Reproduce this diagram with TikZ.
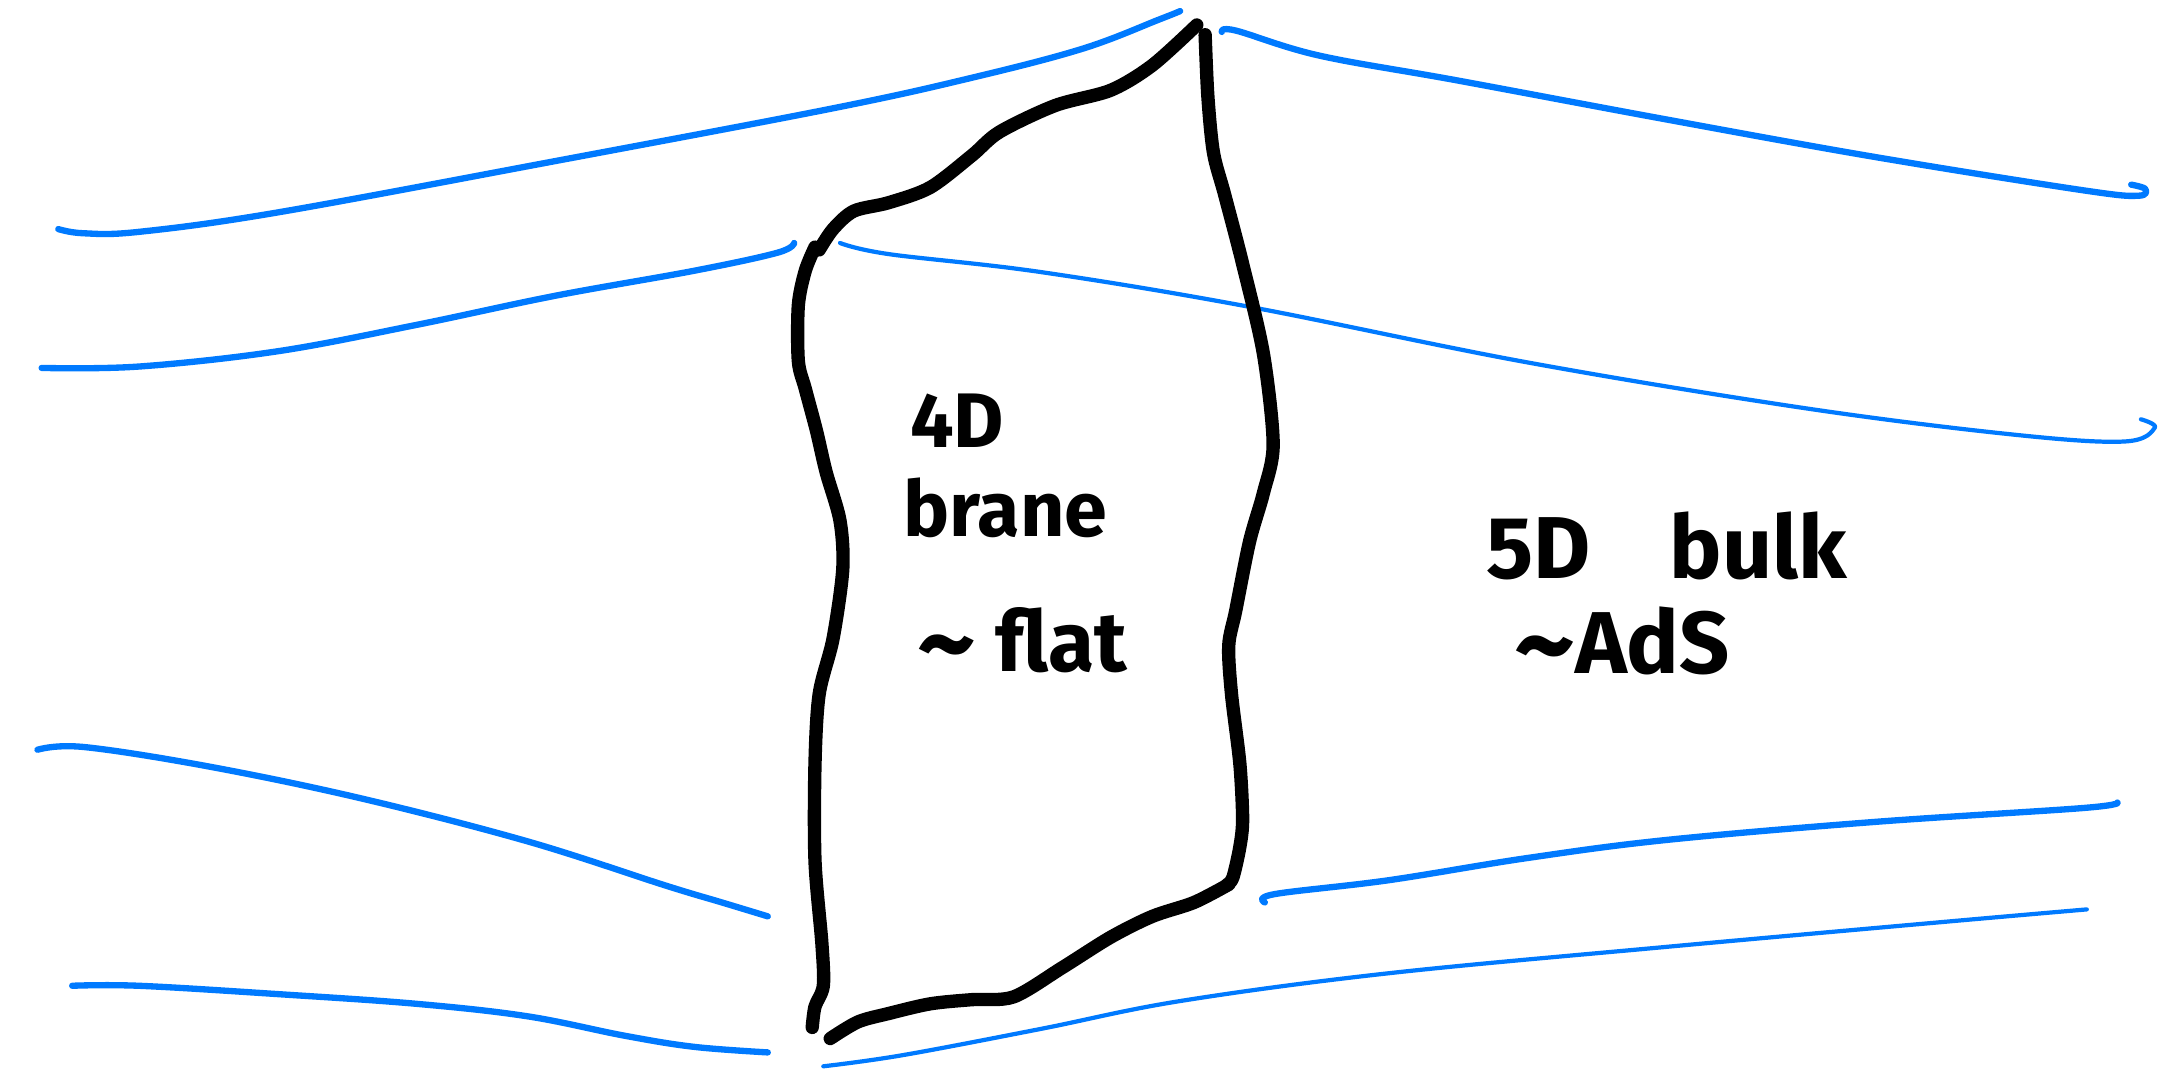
\documentclass[tikz,border=0pt]{standalone}
\usepackage{fontspec}
\setmainfont{Fira Sans}
\definecolor{penblue}{RGB}{0,122,255}
\newcommand{\bigtilde}{\raisebox{-0.12em}{\scalebox{1.35}{\textasciitilde}}}
\begin{document}
\begin{tikzpicture}[x=0.013884cm,y=-0.013884cm,
  bluethick/.style={draw=penblue,line width=1.8pt,line cap=round,line join=round},
  bluethin/.style={draw=penblue,line width=1.2pt,line cap=round,line join=round},
  brane/.style={draw=black,line width=3.8pt,line cap=round,line join=round},
  hand/.style={font=\fontsize{22}{26}\selectfont\bfseries,inner sep=0pt,anchor=west}]
\useasboundingbox (0,0) rectangle (1568,774);
% blue lines
\draw[bluethick] plot[smooth,tension=0.6] coordinates {(42,165) (60,168) (100,167) (200,153) (400,116) (600,78) (700,56) (780,35) (835,14) (850,8)};
\draw[bluethick] plot[smooth,tension=0.6] coordinates {(30,265) (100,264) (200,253) (300,234) (400,213) (500,195) (560,182) (572,175)};
\draw[bluethick] plot[smooth,tension=0.6] coordinates {(880,23) (890,22) (950,40) (1050,58) (1200,86) (1350,113) (1500,137) (1540,141) (1545,136) (1535,133)};
\draw[bluethin] plot[smooth,tension=0.6] coordinates {(605,175) (640,183) (750,196) (900,221) (1100,261) (1300,294) (1450,313) (1530,318) (1552,308) (1542,302)};
\draw[bluethick] plot[smooth,tension=0.6] coordinates {(27,540) (60,538) (150,552) (260,575) (380,606) (480,638) (520,650) (553,660)};
\draw[bluethick] plot[smooth,tension=0.6] coordinates {(52,710) (100,710) (200,716) (300,723) (380,732) (450,746) (500,754) (553,758)};
\draw[bluethick] plot[smooth,tension=0.6] coordinates {(911,650) (918,644) (1000,634) (1100,618) (1200,605) (1350,592) (1500,582) (1525,578)};
\draw[bluethin] plot[smooth,tension=0.6] coordinates {(593,768) (650,760) (750,741) (850,721) (1000,701) (1200,682) (1400,664) (1503,655)};
% brane outline
\draw[brane] plot[smooth,tension=0.5] coordinates {(590,180) (600,165) (615,152) (640,146) (670,135) (700,112) (720,95) (760,76) (800,65) (830,47) (862,18)};
\draw[brane] plot[smooth,tension=0.5] coordinates {(868,25) (870,70) (874,110) (882,140) (895,190) (910,255) (917,320) (910,355) (900,390) (890,440) (885,465) (887,500) (893,550) (895,590) (893,610) (888,632) (884,637)};
\draw[brane] plot[smooth,tension=0.5] coordinates {(885,637) (860,650) (830,660) (800,675) (765,697) (730,718) (700,720) (670,723) (640,730) (618,736) (598,748)};
\draw[brane] plot[smooth,tension=0.5] coordinates {(585,740) (587,725) (593,710) (592,680) (587,620) (587,550) (590,500) (600,460) (607,410) (605,375) (595,340) (588,310) (580,280) (575,260) (575,220) (580,195) (587,178)};
% labels
\node[hand] (t4d) at (655,303) {4D};
\node[hand] (tbrane) at (650,366) {brane};
\node[hand,font=\fontsize{24}{28}\selectfont\bfseries] (tflat) at (660,464) {\bigtilde\ flat};
\node[hand,font=\fontsize{25}{30}\selectfont\bfseries,text depth=0pt] (tbulk) at (1070,393) {5D\hspace{0.9em}bulk};
\node[hand,font=\fontsize{25}{30}\selectfont\bfseries,text height=0.72em] (tads) at (1090,480) {\bigtilde AdS};
\end{tikzpicture}
\end{document}
